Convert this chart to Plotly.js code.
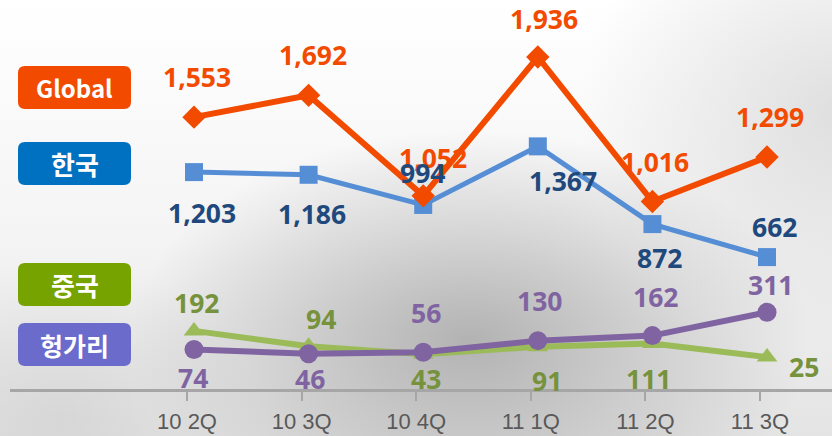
<!DOCTYPE html>
<html>
<head>
<meta charset="utf-8">
<script src="https://cdn.plot.ly/plotly-3.0.1.min.js"></script>
<style>
html,body{margin:0;padding:0;}
body{
  width:832px;height:436px;overflow:hidden;
  background:
    radial-gradient(ellipse 340px 210px at 470px 340px, rgba(140,140,140,0.6), rgba(255,255,255,0) 100%),
    radial-gradient(ellipse 260px 240px at 840px 110px, rgba(190,190,190,0.45), rgba(255,255,255,0) 100%),
    radial-gradient(ellipse 200px 160px at 60px 420px, rgba(200,200,200,0.5), rgba(255,255,255,0) 100%),
    linear-gradient(to bottom, #ffffff 0%, #f4f4f4 55%, #e4e4e4 100%);
}
#chart{width:832px;height:436px;}
</style>
</head>
<body>
<div id="chart"></div>
<script>
// ---- data ----
const categories = ['10 2Q', '10 3Q', '10 4Q', '11 1Q', '11 2Q', '11 3Q'];
const seriesNames = ['Global', '한국', '중국', '헝가리'];
const globalVals  = [1553, 1692, 1052, 1936, 1016, 1299];
const koreaVals   = [1203, 1186, 994, 1367, 872, 662];
const chinaVals   = [192, 94, 43, 91, 111, 25];
const hungaryVals = [74, 46, 56, 130, 162, 311];

// ---- styling ----
const C = {
  global: {line: '#F24B00', label: '#F24B00', box: '#F24B00'},
  korea:  {line: '#558ED5', label: '#1F497D', box: '#0070C0'},
  china:  {line: '#9BBB59', label: '#76923C', box: '#76A300'},
  hungary:{line: '#8064A2', label: '#8064A2', box: '#6B6BCC'}
};
const xIdx = categories.map((c, i) => i);

// label offsets (px) per point: [xshift, yshift]
const offGlobal  = [[3,40],[4,40],[10,38],[6,38],[3,39],[3,40]];
const offKorea   = [[8,-41],[3,-39],[-1,32],[25,-35],[7,-34],[7,30]];
const offChina   = [[2,28],[12,27],[3,-25],[9,-34],[-4,-35],[37,-10]];
const offHungary = [[-1,-29],[1,-25],[3,39],[2,40],[3,39],[3,27]];

function fmt(v){ return v.toLocaleString('en-US'); }

const traces = [
  {x: xIdx, y: chinaVals, name: seriesNames[2], mode: 'lines+markers', type: 'scatter',
   line: {color: C.china.line, width: 6}, marker: {symbol: 'triangle-up', size: 18, color: C.china.line}},
  {x: xIdx, y: hungaryVals, name: seriesNames[3], mode: 'lines+markers', type: 'scatter',
   line: {color: C.hungary.line, width: 6}, marker: {symbol: 'circle', size: 19, color: C.hungary.line}},
  {x: xIdx, y: koreaVals, name: seriesNames[1], mode: 'lines+markers', type: 'scatter',
   line: {color: C.korea.line, width: 5}, marker: {symbol: 'square', size: 18, color: C.korea.line}},
  {x: xIdx, y: globalVals, name: seriesNames[0], mode: 'lines+markers', type: 'scatter',
   line: {color: C.global.line, width: 6}, marker: {symbol: 'diamond', size: 18, color: C.global.line}}
];

const labelFont = 'Noto Sans, Open Sans, sans-serif';
const annotations = [];
function addLabels(vals, offs, color){
  vals.forEach((v, i) => {
    annotations.push({x: xIdx[i], y: v, xref: 'x', yref: 'y', text: '<b>' + fmt(v) + '</b>',
      showarrow: false, xshift: offs[i][0], yshift: offs[i][1],
      font: {family: labelFont, size: 26.5, color: color}});
  });
}
addLabels(chinaVals, offChina, C.china.label);
addLabels(hungaryVals, offHungary, C.hungary.label);
addLabels(globalVals, offGlobal, C.global.label);
addLabels(koreaVals, offKorea, C.korea.label);

// legend boxes (pixel geometry converted to paper coords)
const ML = 10, PW = 822, PH = 389;
function px2x(p){ return (p - ML) / PW; }
function py2y(p){ return 1 - p / PH; }
function roundRect(x0, y0, x1, y1, r){
  const X = px2x, Y = py2y;
  return 'M' + X(x0 + r) + ',' + Y(y0) +
    ' L' + X(x1 - r) + ',' + Y(y0) + ' Q' + X(x1) + ',' + Y(y0) + ' ' + X(x1) + ',' + Y(y0 + r) +
    ' L' + X(x1) + ',' + Y(y1 - r) + ' Q' + X(x1) + ',' + Y(y1) + ' ' + X(x1 - r) + ',' + Y(y1) +
    ' L' + X(x0 + r) + ',' + Y(y1) + ' Q' + X(x0) + ',' + Y(y1) + ' ' + X(x0) + ',' + Y(y1 - r) +
    ' L' + X(x0) + ',' + Y(y0 + r) + ' Q' + X(x0) + ',' + Y(y0) + ' ' + X(x0 + r) + ',' + Y(y0) + ' Z';
}
const boxes = [
  {name: seriesNames[0], top: 66, color: C.global.box, size: 24},
  {name: seriesNames[1], top: 142, color: C.korea.box, size: 26},
  {name: seriesNames[2], top: 263, color: C.china.box, size: 26},
  {name: seriesNames[3], top: 323, color: C.hungary.box, size: 25}
];
const shapes = [];
boxes.forEach(b => {
  shapes.push({type: 'path', xref: 'paper', yref: 'paper', path: roundRect(18, b.top, 131, b.top + 43, 7),
    fillcolor: b.color, line: {width: 0}, layer: 'below'});
  annotations.push({xref: 'paper', yref: 'paper', x: px2x(74.5), y: py2y(b.top + 21.5),
    xanchor: 'center', yanchor: 'middle', showarrow: false, text: '<b>' + b.name + '</b>',
    font: {family: 'Noto Sans CJK KR, Noto Sans, sans-serif', size: b.size, color: '#ffffff'}});
});

const tickOffset = -0.061;
const layout = {
  width: 832, height: 436,
  margin: {l: ML, r: 0, t: 0, b: 47, pad: 0},
  paper_bgcolor: 'rgba(0,0,0,0)', plot_bgcolor: 'rgba(0,0,0,0)',
  showlegend: false,
  xaxis: {range: [-1.6056, 5.567], showgrid: false, zeroline: false,
    showline: true, linecolor: '#a6a6a6', linewidth: 3,
    ticks: 'outside', ticklen: 9, tickwidth: 2, tickcolor: '#a6a6a6',
    ticklabelstandoff: 2,
    tickvals: xIdx.map(i => i + tickOffset), ticktext: categories,
    tickfont: {family: 'Liberation Sans, Arial, sans-serif', size: 22, color: '#595959'},
    fixedrange: true},
  yaxis: {range: [-178, 2299], visible: false, fixedrange: true},
  annotations: annotations,
  shapes: shapes
};

Plotly.newPlot('chart', traces, layout, {displayModeBar: false, staticPlot: true});
</script>
</body>
</html>
